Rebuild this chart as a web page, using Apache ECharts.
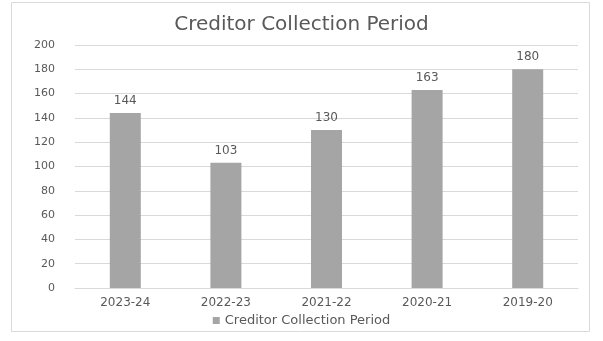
<!DOCTYPE html>
<html>
<head>
<meta charset="utf-8">
<script src="https://cdn.jsdelivr.net/npm/echarts@6/dist/echarts.min.js"></script>
<style>
  html, body { margin: 0; padding: 0; background: #fff; }
  #chart { width: 603px; height: 341px; }
</style>
</head>
<body>
<div id="chart"></div>
<script>
// data
const categories = ['2023-24', '2022-23', '2021-22', '2020-21', '2019-20'];
const periodDays = [144, 103, 130, 163, 180];
const seriesName = 'Creditor Collection Period';
const chartTitle = 'Creditor Collection Period';

const textColor = '#595959';
const barColor = '#a5a5a5';
const gridColor = '#d9d9d9';
const fontFamily = '"DejaVu Sans", "Open Sans", sans-serif';

let chart = echarts.init(document.getElementById('chart'));

let option = {
    animation: false,
    graphic: [{
        type: 'rect',
        shape: {x: 11.5, y: 2.5, width: 578, height: 329},
        style: {fill: 'none', stroke: '#d9d9d9', lineWidth: 1},
        silent: true
    }],
    title: {
        text: chartTitle,
        left: 'center',
        top: 10,
        textStyle: {
            color: textColor,
            fontSize: 20,
            fontWeight: 'normal',
            fontFamily: fontFamily
        }
    },
    grid: {
        left: 75,
        right: 25,
        top: 45,
        bottom: 53,
        containLabel: false
    },
    legend: {
        data: [seriesName],
        bottom: 9,
        left: 'center',
        icon: 'rect',
        itemWidth: 7,
        itemHeight: 7,
        itemGap: 6,
        textStyle: {color: textColor, fontSize: 13, fontFamily: fontFamily}
    },
    xAxis: {
        type: 'category',
        data: categories,
        axisLine: {lineStyle: {color: gridColor}},
        axisTick: {show: false},
        axisLabel: {color: textColor, fontSize: 12, margin: 9, fontFamily: fontFamily}
    },
    yAxis: {
        type: 'value',
        min: 0,
        max: 200,
        interval: 20,
        axisLine: {show: false},
        axisTick: {show: false},
        axisLabel: {color: textColor, fontSize: 11, margin: 20, fontFamily: fontFamily},
        splitLine: {lineStyle: {color: gridColor}}
    },
    series: [{
        name: seriesName,
        type: 'bar',
        data: periodDays,
        barWidth: 31,
        itemStyle: {color: barColor},
        label: {
            show: true,
            position: 'top',
            distance: 6,
            color: textColor,
            fontSize: 12,
            fontFamily: fontFamily
        }
    }]
};

chart.setOption(option);
</script>
</body>
</html>
